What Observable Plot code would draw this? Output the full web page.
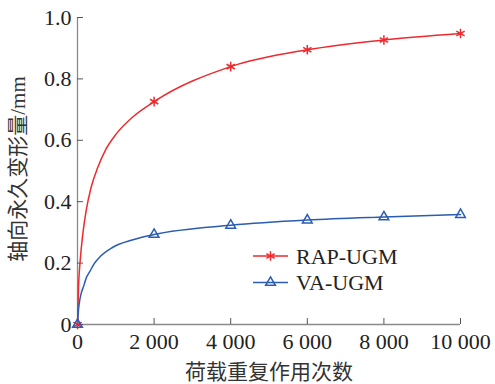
<!DOCTYPE html>
<html>
<head>
<meta charset="utf-8">
<script src="https://cdn.jsdelivr.net/npm/d3@7"></script>
<script src="https://cdn.jsdelivr.net/npm/@observablehq/plot@0.6"></script>
<style>
  html, body { margin: 0; padding: 0; background: #fff; }
  #chart svg text { font-family: "Liberation Serif", "Noto Sans CJK SC", serif !important; }
</style>
</head>
<body>
<div id="chart"></div>
<script>
// ---- data ----
const seriesNames = ["RAP-UGM", "VA-UGM"];
const cycles = [0, 2000, 4000, 6000, 8000, 10000];
const rapValues = [0, 0.726, 0.840, 0.895, 0.927, 0.948];
const vaValues  = [0, 0.293, 0.323, 0.340, 0.350, 0.358];

// fitted curves
const rapCurveX = [0, 26, 70, 139, 226, 356, 530, 747, 1008, 1443, 2000, 4000, 6000, 8000, 10000];
const rapCurveY = [0, 0.12, 0.208, 0.295, 0.371, 0.447, 0.512, 0.572, 0.620, 0.676, 0.726, 0.840, 0.895, 0.927, 0.948];
const vaCurveX  = [0, 26, 60, 100, 160, 230, 320, 420, 600, 900, 1450, 2000, 4000, 6000, 8000, 10000];
const vaCurveY  = [0, 0.048, 0.080, 0.103, 0.125, 0.152, 0.172, 0.195, 0.222, 0.250, 0.276, 0.293, 0.323, 0.340, 0.350, 0.358];

const xTicks = [0, 2000, 4000, 6000, 8000, 10000];
const xTickLabels = ["0", "2 000", "4 000", "6 000", "8 000", "10 000"];
const yTicks = [0, 0.2, 0.4, 0.6, 0.8, 1.0];
const yTickLabels = ["0", "0.2", "0.4", "0.6", "0.8", "1.0"];
const xLabel = "荷载重复作用次数";
const yLabel = "轴向永久变形量/mm";

const colors = ["#ee2a2e", "#2a5cb4"];
const symbols = ["asterisk", "triangle"];

// ---- build tables ----
const curves = [
  ...rapCurveX.map((x, i) => ({series: seriesNames[0], x, y: rapCurveY[i]})),
  ...vaCurveX.map((x, i) => ({series: seriesNames[1], x, y: vaCurveY[i]}))
];
const points = [
  ...cycles.map((x, i) => ({series: seriesNames[0], x, y: rapValues[i]})),
  ...cycles.map((x, i) => ({series: seriesNames[1], x, y: vaValues[i]}))
];

const axisColor = "#8a8a8a";
const serif = "Liberation Serif, DejaVu Serif, serif";

const chart = Plot.plot({
  width: 495,
  height: 384,
  marginLeft: 77,
  marginRight: 35,
  marginTop: 17,
  marginBottom: 60,
  style: {background: "#fff", fontSize: "22px", color: "#222", overflow: "visible"},
  x: {domain: [0, 10000]},
  y: {domain: [0, 1]},
  color: {domain: seriesNames, range: colors},
  symbol: {domain: seriesNames, range: symbols},
  marks: [
    // axis lines
    Plot.ruleX([0], {stroke: axisColor, strokeWidth: 1.3}),
    Plot.ruleY([0], {stroke: axisColor, strokeWidth: 1.3}),
    // inward ticks
    Plot.axisX({ticks: xTicks, tickSize: 6, dy: -6, text: null, stroke: "#555", label: null}),
    Plot.axisY({ticks: yTicks, tickSize: 6, dx: 6, text: null, stroke: "#555", label: null}),
    // tick labels
    Plot.axisX({ticks: xTicks, tickSize: 0, tickPadding: 9, label: null,
      tickFormat: d => xTickLabels[xTicks.indexOf(d)], fontSize: 22, fill: "#222"}),
    Plot.axisY({ticks: yTicks, tickSize: 0, tickPadding: 6, label: null,
      tickFormat: d => yTickLabels[yTicks.findIndex(t => Math.abs(t - d) < 1e-9)], fontSize: 22, fill: "#222"}),
    // curves
    Plot.line(curves, {x: "x", y: "y", z: "series", stroke: "series", strokeWidth: 1.5, curve: "monotone-x"}),
    // markers
    Plot.dot(points.filter(d => d.series === seriesNames[0]), {x: "x", y: "y", symbol: "series", stroke: "series", r: 4.5, strokeWidth: 1.5}),
    Plot.dot(points.filter(d => d.series === seriesNames[1]), {x: "x", y: "y", symbol: "series", stroke: "series", fill: "none", r: 3.6, strokeWidth: 1.5}),
    // axis titles
    Plot.text([xLabel], {frameAnchor: "bottom", dy: 54, lineAnchor: "bottom", textAnchor: "middle", fontSize: 21, fill: "#333"}),
    Plot.text([yLabel], {frameAnchor: "left", dx: -59, dy: -2, rotate: -90, textAnchor: "middle", lineAnchor: "middle", fontSize: 21, fill: "#333"})
  ]
});

document.getElementById("chart").appendChild(chart);

// ---- legend inside the plot area ----
const svg = d3.select(chart);
const lg = svg.append("g").attr("class", "legend");
const legendRows = [256, 282.5];
const d3Symbols = [d3.symbolAsterisk, d3.symbolTriangle];
const symbolSizes = [4.5 * 4.5 * Math.PI, 3.6 * 3.6 * Math.PI];
seriesNames.forEach((name, i) => {
  const y = legendRows[i];
  lg.append("line").attr("x1", 253).attr("x2", 288).attr("y1", y).attr("y2", y)
    .attr("stroke", colors[i]).attr("stroke-width", 1.5);
  lg.append("path").attr("d", d3.symbol(d3Symbols[i], symbolSizes[i])())
    .attr("transform", `translate(270.5,${y})`)
    .attr("fill", "none").attr("stroke", colors[i]).attr("stroke-width", 1.5);
  lg.append("text").attr("x", 296).attr("y", y).attr("dy", "0.35em")
    .attr("text-anchor", "start")
    .attr("font-size", 22).attr("fill", "#222").text(name);
});
</script>
</body>
</html>
